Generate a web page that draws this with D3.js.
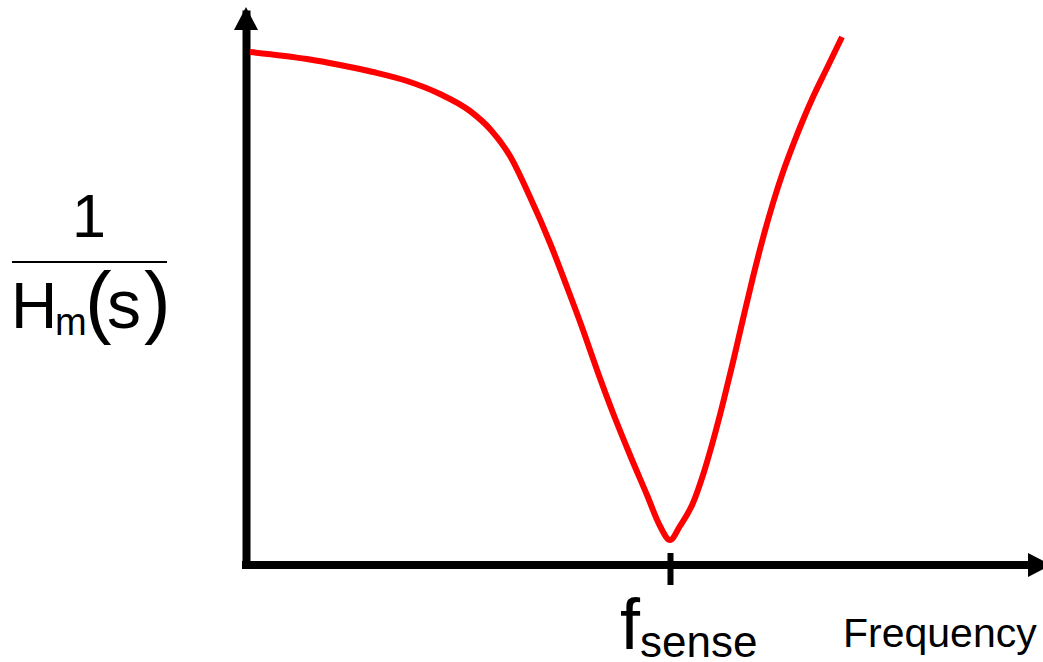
<!DOCTYPE html>
<html>
<head>
<meta charset="utf-8">
<script src="https://cdn.jsdelivr.net/npm/d3@7"></script>
<style>
  body { margin: 0; background: #fff; }
  svg { display: block; font-family: "Liberation Sans", Arial, sans-serif; }
</style>
</head>
<body>
<svg id="drawing_region"></svg>
<script>
// curve (frequency, 1/Hm)
const freq = [4, 61, 94, 127, 161, 194, 224, 244, 264, 284, 304, 321, 337, 351, 367, 384, 401, 414, 424,
              434, 447, 457, 467, 477, 487, 497, 507, 517, 527, 537, 547, 557, 567, 581, 596];
const response = [513, 506, 500, 493, 484, 471, 454, 436, 409, 368, 322, 278, 235, 195, 152, 110, 70, 39, 25,
                  39, 62, 90, 124, 162, 203, 246, 288, 327, 362, 393, 420, 445, 468, 497, 528];
const tickValues = [424];
const xLabel = 'Frequency';

class ResponseChart {

    constructor( config, data ) {
        this.config = {
            width : config.width || 1043,
            height : config.height || 662
        }
        this.data = data;
        this.init();
    }

    init(){
        let self = this;
        self.svg = d3.select('#drawing_region')
            .attr('width', self.config.width)
            .attr('height', self.config.height);

        self.xscale = d3.scaleLinear()
            .domain([0, 784])
            .range([246, 1030]);

        self.yscale = d3.scaleLinear()
            .domain([0, 555])
            .range([565, 10]);

        // y axis, no ticks, thick line
        const yaxis = d3.axisLeft( self.yscale ).tickValues([]).tickSizeOuter(0);
        self.svg.append('g')
            .attr('transform', `translate(${self.xscale(0)}, 0)`)
            .call( yaxis )
            .call( g => g.select('.domain').attr('stroke', '#000').attr('stroke-width', 8) );

        // x axis with the single f_sense tick
        const xaxis = d3.axisBottom( self.xscale )
            .tickValues(tickValues)
            .tickSize(20)
            .tickSizeOuter(0)
            .tickFormat(() => '');
        self.svg.append('g')
            .attr('transform', `translate(0, ${self.yscale(0)})`)
            .call( xaxis )
            .call( g => g.select('.domain').attr('stroke', '#000').attr('stroke-width', 8)
                .attr('d', `M${self.xscale(0) - 4},0H${self.xscale.range()[1]}`) )
            .call( g => g.selectAll('.tick line').attr('stroke', '#000').attr('stroke-width', 6).attr('y1', -12) );

        // arrow heads
        const yTop = self.yscale.range()[1], x0 = self.xscale(0);
        self.svg.append('path')
            .attr('d', `M${x0 - 12},${yTop + 20}L${x0},${yTop - 3}L${x0 + 12},${yTop + 20}Z`)
            .attr('fill', '#000');
        const xEnd = self.xscale.range()[1], y0 = self.yscale(0);
        self.svg.append('path')
            .attr('d', `M${xEnd - 2},${y0 - 12}L${xEnd + 21},${y0}L${xEnd - 2},${y0 + 12}Z`)
            .attr('fill', '#000');
    }

    update(){
        this.renderer();
    }

    renderer(){
        let self = this;

        const line = d3.line()
            .x( d => self.xscale(d.x) )
            .y( d => self.yscale(d.y) )
            .curve(d3.curveMonotoneX);
        self.svg.append('path')
            .attr('d', line(self.data))
            .attr('stroke', '#ff0000')
            .attr('stroke-width', 6)
            .attr('fill', 'none');

        // tick label f_sense
        const tx = self.xscale(tickValues[0]);
        const lab = self.svg.append('text')
            .attr('x', tx - 50)
            .attr('y', 649)
            .attr('fill', '#000');
        lab.append('tspan').attr('font-size', 72).text('f');
        lab.append('tspan').attr('font-size', 44).attr('dy', 8).text('sense');

        self.svg.append('text')
            .attr('x', 843)
            .attr('y', 647)
            .attr('font-size', 41)
            .attr('fill', '#000')
            .text(xLabel);

        // y label: 1 / Hm(s)
        const ylab = self.svg.append('g').attr('fill', '#000');
        ylab.append('text').attr('x', 89).attr('y', 237).attr('font-size', 61)
            .attr('text-anchor', 'middle').text('1');
        ylab.append('rect').attr('x', 12).attr('y', 261).attr('width', 155).attr('height', 2);
        ylab.append('text').attr('x', 11).attr('y', 328).attr('font-size', 64).text('H');
        ylab.append('text').attr('x', 55).attr('y', 335).attr('font-size', 38).text('m');
        ylab.append('text').attr('x', 85).attr('y', 328).attr('font-size', 80).text('(');
        ylab.append('text').attr('x', 107).attr('y', 328).attr('font-size', 68).text('s');
        ylab.append('text').attr('x', 144).attr('y', 328).attr('font-size', 80).text(')');
    }

}

const data = freq.map((f, i) => ({ x: f, y: response[i] }));
const chart = new ResponseChart({ width: 1043, height: 662 }, data);
chart.update();
</script>
</body>
</html>
